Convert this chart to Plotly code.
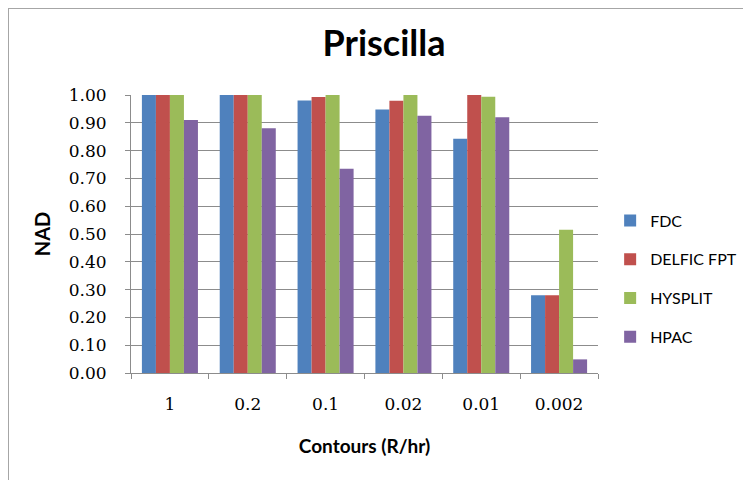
import plotly.graph_objects as go

categories = ["1", "0.2", "0.1", "0.02", "0.01", "0.002"]
fdc = [1.00, 1.00, 0.98, 0.948, 0.843, 0.28]
delfic = [1.00, 1.00, 0.993, 0.979, 1.00, 0.28]
hysplit = [1.00, 1.00, 1.00, 1.00, 0.994, 0.515]
hpac = [0.91, 0.88, 0.735, 0.925, 0.92, 0.049]
series_names = ["FDC", "DELFIC FPT", "HYSPLIT", "HPAC"]
colors = ["#4F81BD", "#C0504D", "#9BBB59", "#8064A2"]
y_ticks = [0.0, 0.1, 0.2, 0.3, 0.4, 0.5, 0.6, 0.7, 0.8, 0.9, 1.0]

# figure is placed at (8,8) in the page by the default body margin
W, H = 743, 472
ML, MR, MT, MB = 123, 153, 87, 107
PW, PH = W - ML - MR, H - MT - MB

fig = go.Figure()
for name, vals, col in zip(series_names, [fdc, delfic, hysplit, hpac], colors):
    fig.add_trace(go.Bar(x=categories, y=vals, name=name, marker_color=col,
                         marker_line_width=0, legendgroup=name))

fig.update_layout(
    width=W, height=H,
    margin=dict(l=ML, r=MR, t=MT, b=MB, autoexpand=False),
    paper_bgcolor="white", plot_bgcolor="white",
    barmode="group", bargap=0.28, bargroupgap=0,
    showlegend=True,
    legend=dict(x=1.026, y=0.338, xanchor="left", yanchor="middle",
                font=dict(family="Lato", size=16, color="#000"),
                tracegroupgap=15, itemwidth=30, bgcolor="rgba(0,0,0,0)"),
    title=dict(text="<b>Priscilla</b>", x=(384 - 8) / W, xref="container", xanchor="center",
               y=1 - 35 / H, yanchor="middle",
               font=dict(family="Lato", size=36, color="#000")),
    font=dict(family="Lato", color="#000"),
)

fig.update_yaxes(
    range=[0, 1.0], tickvals=y_ticks, tickformat=".2f",
    showgrid=True, gridcolor="#8c8c8c", gridwidth=1,
    showline=True, linecolor="#8c8c8c", linewidth=1,
    ticks="outside", ticklen=5, tickcolor="#8c8c8c",
    tickfont=dict(family="DejaVu Serif", size=17, color="#000"),
    ticklabelstandoff=15,
    title=dict(text="<b>NAD</b>", font=dict(family="Lato", size=20, color="#000"), standoff=12),
    zeroline=False,
)
fig.update_xaxes(
    showline=True, linecolor="#8c8c8c", linewidth=1,
    ticks="outside", ticklen=5, tickcolor="#8c8c8c", tickson="boundaries",
    tickfont=dict(family="DejaVu Serif", size=17, color="#000"),
    ticklabelstandoff=16,
    title=dict(text="<b>Contours (R/hr)</b>", font=dict(family="Lato", size=19, color="#000"), standoff=26),
    showgrid=False,
)

fig.add_shape(type="rect", xref="paper", yref="paper",
              x0=-ML / PW, x1=(W + 10 - ML) / PW,
              y0=-(MB + 10) / PH, y1=1 + MT / PH,
              line=dict(color="#a6a6a6", width=2), fillcolor="rgba(0,0,0,0)", layer="below")

fig.write_html("out.html")
